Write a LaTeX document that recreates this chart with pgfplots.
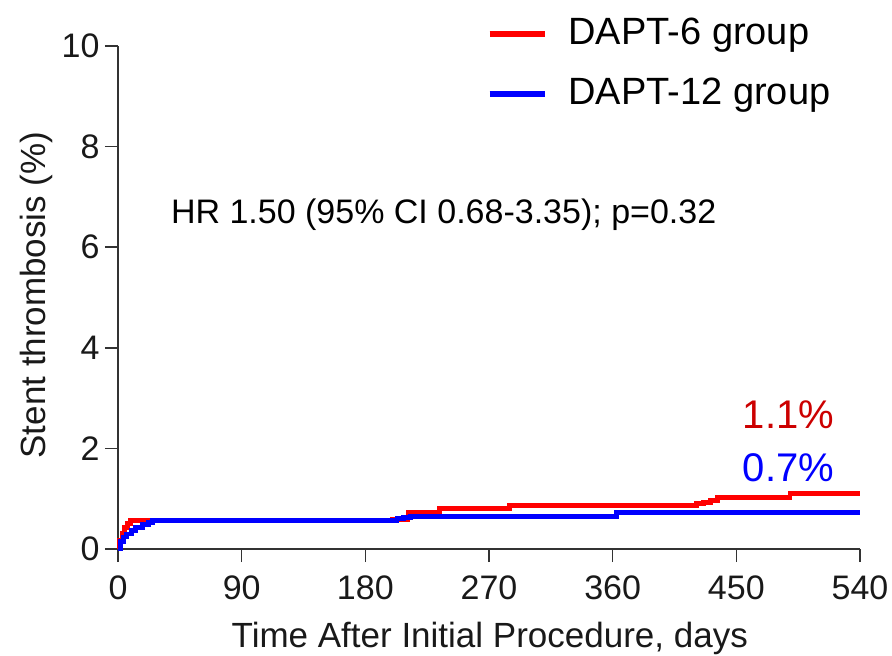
\documentclass[border=0pt]{standalone}
\usepackage{pgfplots}
\pgfplotsset{compat=1.18}
\usepackage{fontspec}
\setmainfont{Liberation Sans}
\usetikzlibrary{calc}
\definecolor{dred}{RGB}{204,0,0}
\begin{document}
\begin{tikzpicture}
\begin{axis}[name=ax, scale only axis, width=742pt, height=503pt,
  xmin=0, xmax=540, ymin=0, ymax=10,
  axis x line*=bottom, axis y line*=left,
  axis line style={line width=1.6pt, draw=black!80, -},
  xtick={0,90,...,540}, ytick={0,2,...,10},
  tick align=outside, major tick length=13pt,
  tick style={line width=1.6pt, black!80},
  ticklabel style={font=\fontsize{34}{36}\selectfont, black!90},
  xticklabel style={yshift=-10pt},
  yticklabel style={xshift=-2pt},
  /pgf/number format/assume math mode=true,
  xlabel={Time After Initial Procedure, days},
  ylabel={Stent thrombosis (\%)},
  label style={font=\fontsize{35}{40}\selectfont, black!90},
  xlabel style={at={(axis description cs:0.501,-0.177)}, anchor=center},
  ylabel style={at={(axis description cs:-0.110,0.505)}, anchor=center},
  legend style={at={(rel axis cs:0.497,1.06)}, anchor=north west, draw=none, fill=none,
    font=\fontsize{38}{42}\selectfont, inner sep=0pt, row sep=24pt,
    nodes={inner sep=0pt, text height=28pt, text depth=8pt},
    /tikz/every odd column/.append style={column sep=21pt}},
  legend cell align=left,
  legend image code/.code={\draw[#1, line width=5.5pt] (0pt,0pt) -- (55pt,0pt);},
  clip=false
]
\addplot[const plot, red, line width=4.8pt] coordinates {
(0,0) (1,0.18) (3,0.32) (5,0.42) (7,0.5) (9,0.57) (200,0.59) (211,0.72) (234,0.80) (285,0.87)
(421,0.90) (426,0.93) (431,0.97) (436,1.03) (489,1.10) (540,1.10)};
\addlegendentry{DAPT-6 group}
\addplot[const plot, blue, line width=4.8pt] coordinates {
(0,0) (2,0.15) (4,0.24) (6,0.30) (10,0.36) (13,0.42) (18,0.48) (22,0.53) (25,0.57)
(203,0.60) (208,0.63) (213,0.65) (363,0.72) (540,0.72)};
\addlegendentry{DAPT-12 group}
\node[anchor=west, font=\fontsize{34}{38}\selectfont] at (axis cs:36,6.64) {HR 1.50 (95\% CI 0.68-3.35); p=0.32};
\node[font=\fontsize{40}{44}\selectfont, text=dred] at (axis cs:488,2.66) {1.1\%};
\node[font=\fontsize{40}{44}\selectfont, text=blue] at (axis cs:488,1.61) {0.7\%};
\end{axis}
\pgfresetboundingbox
\path[use as bounding box] ($(ax.south west)+(-118pt,-106pt)$) rectangle ($(ax.north east)+(32pt,46pt)$);
\end{tikzpicture}
\end{document}
